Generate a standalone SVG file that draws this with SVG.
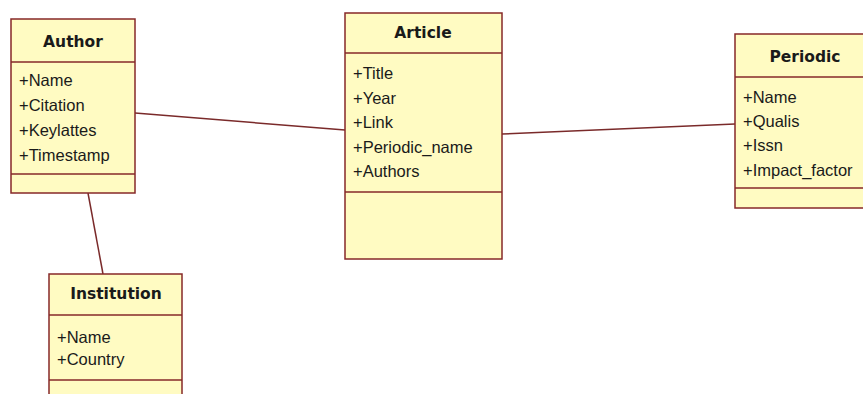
<svg xmlns="http://www.w3.org/2000/svg" width="863" height="394" viewBox="0 0 863 394">
  <style>
    .box { fill: #fffbc2; stroke: #862828; stroke-width: 1.5; }
    .sep { stroke: #862828; stroke-width: 1.5; }
    .title { font-family: "DejaVu Sans", Verdana, sans-serif; font-size: 15.5px; font-weight: bold; fill: #1a1a1a; text-anchor: middle; }
    .attr { font-family: "Liberation Sans", Arial, sans-serif; font-size: 16.5px; fill: #1a1a1a; }
    .link { stroke: #7a2a2a; stroke-width: 1.5; fill: none; }
  </style>
  <rect width="863" height="394" fill="#ffffff"/>

  <g id="connectors">
    <line class="link" x1="135" y1="113" x2="345" y2="130"/>
    <line class="link" x1="502" y1="134" x2="735" y2="124"/>
    <line class="link" x1="88" y1="193" x2="103" y2="274"/>
  </g>

  <g id="author">
    <rect class="box" x="11" y="19" width="124" height="174"/>
    <line class="sep" x1="11" y1="62" x2="135" y2="62"/>
    <line class="sep" x1="11" y1="174" x2="135" y2="174"/>
    <text class="title" x="73" y="47">Author</text>
    <text class="attr" x="19" y="86">+Name</text>
    <text class="attr" x="19" y="111">+Citation</text>
    <text class="attr" x="19" y="136">+Keylattes</text>
    <text class="attr" x="19" y="161">+Timestamp</text>
  </g>

  <g id="article">
    <rect class="box" x="345" y="13" width="157" height="246"/>
    <line class="sep" x1="345" y1="53" x2="502" y2="53"/>
    <line class="sep" x1="345" y1="192" x2="502" y2="192"/>
    <text class="title" x="423" y="38">Article</text>
    <text class="attr" x="353" y="79">+Title</text>
    <text class="attr" x="353" y="104">+Year</text>
    <text class="attr" x="353" y="128">+Link</text>
    <text class="attr" x="353" y="153">+Periodic_name</text>
    <text class="attr" x="353" y="177">+Authors</text>
  </g>

  <g id="periodic">
    <rect class="box" x="735" y="34" width="140" height="174"/>
    <line class="sep" x1="735" y1="77" x2="875" y2="77"/>
    <line class="sep" x1="735" y1="188" x2="875" y2="188"/>
    <text class="title" x="805" y="62">Periodic</text>
    <text class="attr" x="743" y="103">+Name</text>
    <text class="attr" x="743" y="127">+Qualis</text>
    <text class="attr" x="743" y="151">+Issn</text>
    <text class="attr" x="743" y="176">+Impact_factor</text>
  </g>

  <g id="institution">
    <rect class="box" x="49" y="274" width="133" height="130"/>
    <line class="sep" x1="49" y1="315" x2="182" y2="315"/>
    <line class="sep" x1="49" y1="380" x2="182" y2="380"/>
    <text class="title" x="116" y="299">Institution</text>
    <text class="attr" x="57" y="343">+Name</text>
    <text class="attr" x="57" y="365">+Country</text>
  </g>
</svg>
